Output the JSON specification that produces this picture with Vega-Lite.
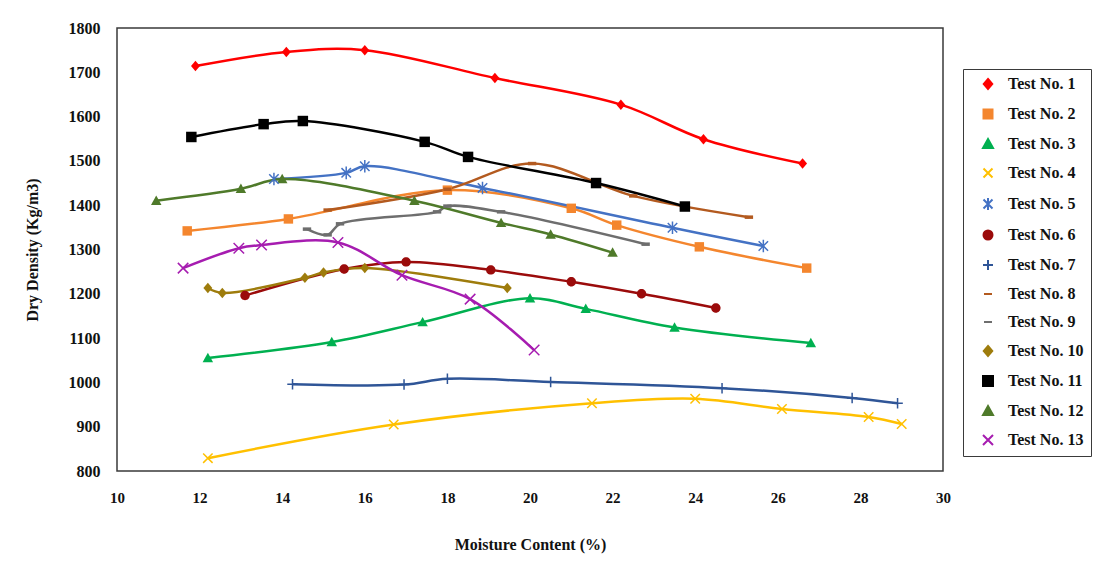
{
  "$schema": "https://vega.github.io/schema/vega-lite/v6.json",
  "autosize": {"type": "none"},
  "width": 826,
  "height": 443,
  "padding": {"left": 117, "top": 28, "right": 169, "bottom": 92},
  "background": "white",
  "config": {
    "view": {"stroke": "#3a3a3a", "strokeWidth": 1.5},
    "font": "Liberation Serif"
  },
  "data": {"values": [
    {"test": "Test No. 1", "mc": 11.9, "dd": 1714},
    {"test": "Test No. 1", "mc": 14.1, "dd": 1746},
    {"test": "Test No. 1", "mc": 16.0, "dd": 1750},
    {"test": "Test No. 1", "mc": 19.15, "dd": 1687},
    {"test": "Test No. 1", "mc": 22.2, "dd": 1627},
    {"test": "Test No. 1", "mc": 24.2, "dd": 1549},
    {"test": "Test No. 1", "mc": 26.6, "dd": 1494},
    {"test": "Test No. 2", "mc": 11.7, "dd": 1342},
    {"test": "Test No. 2", "mc": 14.15, "dd": 1369},
    {"test": "Test No. 2", "mc": 18.0, "dd": 1434},
    {"test": "Test No. 2", "mc": 21.0, "dd": 1393},
    {"test": "Test No. 2", "mc": 22.1, "dd": 1355},
    {"test": "Test No. 2", "mc": 24.1, "dd": 1306},
    {"test": "Test No. 2", "mc": 26.7, "dd": 1258},
    {"test": "Test No. 3", "mc": 12.2, "dd": 1055},
    {"test": "Test No. 3", "mc": 15.2, "dd": 1091},
    {"test": "Test No. 3", "mc": 17.4, "dd": 1136},
    {"test": "Test No. 3", "mc": 20.0, "dd": 1190},
    {"test": "Test No. 3", "mc": 21.35, "dd": 1166},
    {"test": "Test No. 3", "mc": 23.5, "dd": 1124},
    {"test": "Test No. 3", "mc": 26.8, "dd": 1089},
    {"test": "Test No. 4", "mc": 12.2, "dd": 829},
    {"test": "Test No. 4", "mc": 16.7, "dd": 905},
    {"test": "Test No. 4", "mc": 21.5, "dd": 953},
    {"test": "Test No. 4", "mc": 24.0, "dd": 963},
    {"test": "Test No. 4", "mc": 26.1, "dd": 940},
    {"test": "Test No. 4", "mc": 28.2, "dd": 922},
    {"test": "Test No. 4", "mc": 29.0, "dd": 906},
    {"test": "Test No. 5", "mc": 13.8, "dd": 1459},
    {"test": "Test No. 5", "mc": 15.55, "dd": 1473},
    {"test": "Test No. 5", "mc": 16.0, "dd": 1488},
    {"test": "Test No. 5", "mc": 18.85, "dd": 1439},
    {"test": "Test No. 5", "mc": 23.45, "dd": 1349},
    {"test": "Test No. 5", "mc": 25.65, "dd": 1308},
    {"test": "Test No. 6", "mc": 13.1, "dd": 1196},
    {"test": "Test No. 6", "mc": 15.5, "dd": 1256},
    {"test": "Test No. 6", "mc": 17.0, "dd": 1272},
    {"test": "Test No. 6", "mc": 19.05, "dd": 1254},
    {"test": "Test No. 6", "mc": 21.0, "dd": 1227},
    {"test": "Test No. 6", "mc": 22.7, "dd": 1200},
    {"test": "Test No. 6", "mc": 24.5, "dd": 1168},
    {"test": "Test No. 7", "mc": 14.25, "dd": 996},
    {"test": "Test No. 7", "mc": 16.95, "dd": 995},
    {"test": "Test No. 7", "mc": 18.0, "dd": 1008},
    {"test": "Test No. 7", "mc": 20.5, "dd": 1001},
    {"test": "Test No. 7", "mc": 24.65, "dd": 987},
    {"test": "Test No. 7", "mc": 27.8, "dd": 965},
    {"test": "Test No. 7", "mc": 28.9, "dd": 953},
    {"test": "Test No. 8", "mc": 15.1, "dd": 1389},
    {"test": "Test No. 8", "mc": 18.0, "dd": 1436},
    {"test": "Test No. 8", "mc": 20.05, "dd": 1494},
    {"test": "Test No. 8", "mc": 22.5, "dd": 1421},
    {"test": "Test No. 8", "mc": 25.3, "dd": 1373},
    {"test": "Test No. 9", "mc": 14.6, "dd": 1346},
    {"test": "Test No. 9", "mc": 15.1, "dd": 1333},
    {"test": "Test No. 9", "mc": 15.4, "dd": 1358},
    {"test": "Test No. 9", "mc": 17.75, "dd": 1385},
    {"test": "Test No. 9", "mc": 18.0, "dd": 1398},
    {"test": "Test No. 9", "mc": 19.3, "dd": 1385},
    {"test": "Test No. 9", "mc": 22.8, "dd": 1312},
    {"test": "Test No. 10", "mc": 12.2, "dd": 1213},
    {"test": "Test No. 10", "mc": 12.55, "dd": 1202},
    {"test": "Test No. 10", "mc": 14.55, "dd": 1236},
    {"test": "Test No. 10", "mc": 15.0, "dd": 1248},
    {"test": "Test No. 10", "mc": 16.0, "dd": 1258},
    {"test": "Test No. 10", "mc": 19.45, "dd": 1213},
    {"test": "Test No. 11", "mc": 11.8, "dd": 1554},
    {"test": "Test No. 11", "mc": 13.55, "dd": 1583},
    {"test": "Test No. 11", "mc": 14.5, "dd": 1590},
    {"test": "Test No. 11", "mc": 17.45, "dd": 1543},
    {"test": "Test No. 11", "mc": 18.5, "dd": 1509},
    {"test": "Test No. 11", "mc": 21.6, "dd": 1450},
    {"test": "Test No. 11", "mc": 23.75, "dd": 1397},
    {"test": "Test No. 12", "mc": 10.95, "dd": 1410},
    {"test": "Test No. 12", "mc": 13.0, "dd": 1437},
    {"test": "Test No. 12", "mc": 14.0, "dd": 1459},
    {"test": "Test No. 12", "mc": 17.2, "dd": 1410},
    {"test": "Test No. 12", "mc": 19.3, "dd": 1360},
    {"test": "Test No. 12", "mc": 20.5, "dd": 1334},
    {"test": "Test No. 12", "mc": 22.0, "dd": 1293},
    {"test": "Test No. 13", "mc": 11.6, "dd": 1258},
    {"test": "Test No. 13", "mc": 12.95, "dd": 1303},
    {"test": "Test No. 13", "mc": 13.5, "dd": 1310},
    {"test": "Test No. 13", "mc": 15.35, "dd": 1316},
    {"test": "Test No. 13", "mc": 16.9, "dd": 1242},
    {"test": "Test No. 13", "mc": 18.55, "dd": 1188},
    {"test": "Test No. 13", "mc": 20.1, "dd": 1073}
  ]},
  "encoding": {
    "x": {
      "field": "mc", "type": "quantitative",
      "scale": {"domain": [10, 30], "nice": false, "zero": false},
      "axis": {
        "values": [10, 12, 14, 16, 18, 20, 22, 24, 26, 28, 30],
        "format": "d", "grid": false, "ticks": false, "domain": false,
        "labelFont": "Liberation Serif", "labelFontSize": 15, "labelFontWeight": "bold", "labelColor": "#111",
        "labelPadding": 19, "labelFlush": false,
        "title": "Moisture Content (%)", "titleFont": "Liberation Serif", "titleFontSize": 16,
        "titleFontWeight": "bold", "titleColor": "#111", "titlePadding": 31
      }
    },
    "y": {
      "field": "dd", "type": "quantitative",
      "scale": {"domain": [800, 1800], "nice": false, "zero": false},
      "axis": {
        "values": [800, 900, 1000, 1100, 1200, 1300, 1400, 1500, 1600, 1700, 1800],
        "format": "d", "grid": false, "ticks": false, "domain": false,
        "labelFont": "Liberation Serif", "labelFontSize": 16, "labelFontWeight": "bold", "labelColor": "#111",
        "labelPadding": 17, "labelFlush": false,
        "title": "Dry Density (Kg/m3)", "titleFont": "Liberation Serif", "titleFontSize": 16,
        "titleFontWeight": "bold", "titleColor": "#111", "titlePadding": 28
      }
    },
    "color": {
      "field": "test", "type": "nominal",
      "scale": {
        "domain": ["Test No. 1", "Test No. 2", "Test No. 3", "Test No. 4", "Test No. 5", "Test No. 6", "Test No. 7", "Test No. 8", "Test No. 9", "Test No. 10", "Test No. 11", "Test No. 12", "Test No. 13"],
        "range": ["#FF0000", "#F4862E", "#00B050", "#FFC000", "#4472C4", "#9B0B0B", "#2F5597", "#B35A1F", "#6E6E6E", "#9E7C0C", "#000000", "#4F7A2A", "#A61CB0"]
      },
      "legend": {
        "title": null, "orient": "none", "legendX": 846, "legendY": 41,
        "strokeColor": "#3a3a3a", "fillColor": "white",
        "padding": 7, "symbolOffset": 10, "labelOffset": 12, "rowPadding": 12,
        "symbolSize": 100,
        "labelFont": "Liberation Serif", "labelFontSize": 16, "labelFontWeight": "bold", "labelColor": "#111",
        "encode": {
          "symbols": {"update": {
            "shape": {"value": {"expr": "scale('shape', datum.value) + ' M-3.6,0L3.6,0'"}},
            "strokeWidth": {"value": 2}
          }}
        }
      }
    }
  },
  "layer": [
    {
      "mark": {"type": "line", "interpolate": "catmull-rom", "strokeWidth": 2.5}
    },
    {
      "transform": [{"filter": {"field": "test", "oneOf": ["Test No. 1", "Test No. 2", "Test No. 3", "Test No. 6", "Test No. 10", "Test No. 11", "Test No. 12"]}}],
      "mark": {"type": "point", "filled": true, "opacity": 1, "size": 110},
      "encoding": {
        "shape": {
          "field": "test", "type": "nominal", "legend": null,
          "scale": {
            "domain": ["Test No. 1", "Test No. 2", "Test No. 3", "Test No. 4", "Test No. 5", "Test No. 6", "Test No. 7", "Test No. 8", "Test No. 9", "Test No. 10", "Test No. 11", "Test No. 12", "Test No. 13"],
            "range": [
              "M0,-1L0.85,0L0,1L-0.85,0Z",
              "M-0.9,-0.9L0.9,-0.9L0.9,0.9L-0.9,0.9Z",
              "M0,-1L1,0.8L-1,0.8Z",
              "M-0.9,-0.9L0.9,0.9M-0.9,0.9L0.9,-0.9",
              "M-0.9,-0.9L0.9,0.9M-0.9,0.9L0.9,-0.9M0,-1.2L0,1.2",
              "M-0.9,0A0.9,0.9 0 1,0 0.9,0A0.9,0.9 0 1,0 -0.9,0Z",
              "M0,-1L0,1M-1,0L1,0",
              "M-0.8,0L0.8,0",
              "M-0.8,0L0.8,0",
              "M0,-1L0.85,0L0,1L-0.85,0Z",
              "M-1,-1L1,-1L1,1L-1,1Z",
              "M0,-1L1,0.8L-1,0.8Z",
              "M-1,-1L1,1M-1,1L1,-1"
            ]
          }
        }
      }
    },
    {
      "transform": [{"filter": {"field": "test", "oneOf": ["Test No. 4", "Test No. 5", "Test No. 7", "Test No. 13"]}}],
      "mark": {"type": "point", "filled": false, "opacity": 1, "size": 110, "strokeWidth": 1.5},
      "encoding": {"shape": {"field": "test", "type": "nominal", "legend": null}}
    },
    {
      "transform": [{"filter": {"field": "test", "oneOf": ["Test No. 8", "Test No. 9"]}}],
      "mark": {"type": "point", "filled": false, "opacity": 1, "size": 110, "strokeWidth": 3.5},
      "encoding": {"shape": {"field": "test", "type": "nominal", "legend": null}}
    }
  ]
}
